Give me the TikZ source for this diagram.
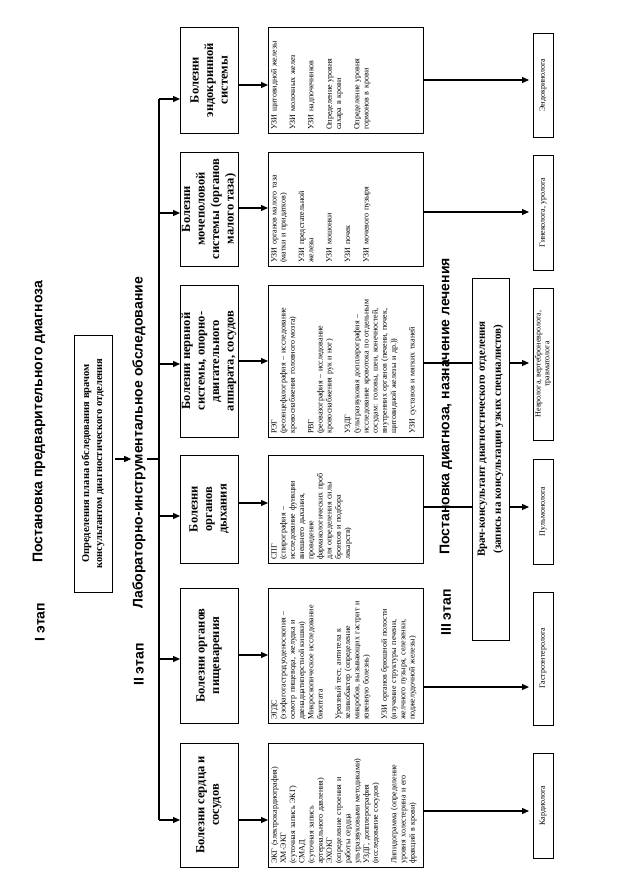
\documentclass[tikz,border=0pt]{standalone}
\usepackage{fontspec}
\setmainfont{Liberation Serif}
\newfontfamily\headfont{Liberation Sans}
\usetikzlibrary{arrows.meta}
\begin{document}
\begin{tikzpicture}[x=1pt,y=-1pt,
  conn/.style={line width=1.2pt},
  arr/.style={conn,-{Triangle[length=7pt,width=6pt]}},
  rbox/.style={draw, line width=0.9pt, rotate=90, inner sep=0pt, outer sep=0pt},
  catbox/.style={rbox, minimum height=58pt, align=center, font=\fontsize{12.5}{14.5}\selectfont\bfseries},
  detbox/.style={rbox, minimum height=155pt},
  dettext/.style={rotate=90, anchor=north west, text width=200pt, align=left, inner sep=3pt, font=\fontsize{8}{9.2}\selectfont},
  specbox/.style={rbox, minimum height=20pt, align=center, font=\fontsize{8}{8.6}\selectfont},
  title/.style={rotate=90, inner sep=1pt, font=\headfont\bfseries\fontsize{14}{16}\selectfont},
]
\fill[white] (0,0) rectangle (627,888);
\useasboundingbox (0,0) rectangle (627,888);

% titles
\node[title] (t1) at (39,422) {Постановка предварительного диагноза};
\node[title] (s1) at (40,622) {I этап};
\node[title] (t2) at (139,443) {Лабораторно-инструментальное обследование};
\node[title] (s2) at (139,664.5) {II этап};
\node[title] (t3) at (446,406.5) {Постановка диагноза, назначение лечения};
\node[title] (s3) at (446,612.5) {III этап};

% plan box
\node[rbox, minimum width=257pt, minimum height=38pt, align=center, font=\fontsize{10.5}{13}\selectfont\bfseries] (plan) at (93,463.5) {Определения плана обследования врачом\\консультантом диагностического отделения};

% doctor box
\node[rbox, minimum width=362pt, minimum height=37pt, align=center, font=\fontsize{11}{16}\selectfont\bfseries] (vr) at (490.5,459) {\hspace*{40pt}Врач-консультант диагностического отделения\\\hspace*{40pt}(запись на консультации узких специалистов)};

% category boxes
\node[catbox, minimum width=106pt] (cE) at (209,80) {Болезни\\эндокринной\\системы};
\node[catbox, minimum width=114pt] (cG) at (209,209) {Болезни\\мочеполовой\\системы (органов\\малого таза)};
\node[catbox, minimum width=152pt] (cN) at (209,361) {Болезни нервной\\системы, опорно-\\двигательного\\аппарата, сосудов};
\node[catbox, minimum width=108pt] (cB) at (209,509) {Болезни\\органов\\дыхания};
\node[catbox, minimum width=135pt] (cD) at (209,655.5) {Болезни органов\\пищеварения};
\node[catbox, minimum width=124pt] (cH) at (209,805) {Болезни сердца и\\сосудов};

% detail boxes
\node[detbox, minimum width=106pt] (dE) at (345.5,80) {};
\node[dettext] (dEt) at (dE.north west) {УЗИ щитовидной железы\\[9.2pt]УЗИ молочных желез\\[9.2pt]УЗИ надпочечников\\[9.2pt]Определение уровня\\сахара в крови\\[9.2pt]Определение уровня\\гормонов в крови};

\node[detbox, minimum width=114pt] (dG) at (345.5,209) {};
\node[dettext] (dGt) at (dG.north west) {УЗИ органов малого таза\\(матки и придатков)\\[9.2pt]УЗИ предстательной\\железы\\[9.2pt]УЗИ мошонки\\[9.2pt]УЗИ почек\\[9.2pt]УЗИ мочевого пузыря};

\node[detbox, minimum width=152pt] (dN) at (345.5,361) {};
\node[dettext] (dNt) at (dN.north west) {РЭГ\\(реоэнцефалография – исследование\\кровоснабжения головного мозга)\\[9.2pt]РВГ\\(реовазография – исследование\\кровоснабжения рук и ног)\\[9.2pt]УЗДГ\\(ультразвуковая допплерография –\\исследование кровотока по отдельным\\сосудам: головы, шеи, конечностей,\\внутренних органов (печени, почек,\\щитовидной железы и др.))\\[9.2pt]УЗИ суставов и мягких тканей};

\node[detbox, minimum width=108pt] (dB) at (345.5,509) {};
\node[dettext] (dBt) at (dB.north west) {СПГ\\(спирография –\\исследование функции\\внешнего дыхания,\\проведение\\фармакологических проб\\для определения силы\\бронхов и подбора\\лекарств)};

\node[detbox, minimum width=135pt] (dD) at (345.5,655.5) {};
\node[dettext] (dDt) at (dD.north west) {ЭГДС\\(эзофагогастродуоденоскопия –\\осмотр пищевода, желудка и\\двенадцатиперстной кишки)\\Микроскопическое исследование\\биоптата\\[9.2pt]Уреазный тест, антитела к\\хеликобактер (определение\\микробов, вызывающих гастрит и\\язвенную болезнь)\\[9.2pt]УЗИ органов брюшной полости\\(изучение структуры печени,\\желчного пузыря, селезенки,\\поджелудочной железы)};

\node[detbox, minimum width=124pt] (dH) at (345.5,805) {};
\node[dettext] (dHt) at (dH.north west) {ЭКГ (электрокардиография)\\ХМ-ЭКГ\\(суточная запись ЭКГ)\\СМАД\\(суточная запись\\артериального давления)\\ЭХОКГ\\(определение строения и\\работы сердца\\ультразвуковыми методиками)\\УЗДГ, допплерография\\(исследование сосудов)\\[9.2pt]Липидограмма (определение\\уровня холестерина и его\\фракций в крови)};

% specialist boxes
\node[specbox, minimum width=104pt] (sE) at (543,85) {Эндокринолога};
\node[specbox, minimum width=115pt] (sG) at (543,212.5) {Гинеколога, уролога};
\node[specbox, minimum width=152pt] (sN) at (543,364) {Невролога, вертеброневролога,\\травматолога};
\node[specbox, minimum width=105pt] (sP) at (543,511.5) {Пульмонолога};
\node[specbox, minimum width=133pt] (sGa) at (543,658.5) {Гастроэнтеролога};
\node[specbox, minimum width=105pt] (sC) at (543,805.5) {Кардиолога};

% connectors stage I -> II
\draw[arr, shorten <=3pt] (plan.south |- 0,459) -- (t2.north |- 0,459);
\coordinate (bT) at (159,99);
\coordinate (bB) at (159,820);
\draw[conn] (t2.south |- 0,459) -- (bT |- 0,459);
\draw[conn] (bT) -- (bB);
\draw[arr] (bT) -- (cE.north |- bT);
\draw[arr] (bT |- 0,213) -- (cG.north |- 0,213);
\draw[arr] (bT |- 0,364) -- (cN.north |- 0,364);
\draw[arr] (bT |- 0,516) -- (cB.north |- 0,516);
\draw[arr] (bT |- 0,659) -- (cD.north |- 0,659);
\draw[arr] (bB) -- (cH.north |- bB);

% category -> detail
\draw[arr] (cE.south |- 0,85) -- (dE.north |- 0,85);
\draw[arr] (cG.south |- 0,208) -- (dG.north |- 0,208);
\draw[arr] (cN.south |- 0,361) -- (dN.north |- 0,361);
\draw[arr] (cB.south |- 0,503) -- (dB.north |- 0,503);
\draw[arr] (cD.south |- 0,655) -- (dD.north |- 0,655);
\draw[arr] (cH.south |- 0,820) -- (dH.north |- 0,820);

% detail -> specialists
\draw[arr, shorten >=4pt] (dE.south |- 0,80) -- (sE.north |- 0,80);
\draw[arr, shorten >=4pt] (dG.south |- 0,212) -- (sG.north |- 0,212);
\draw[conn] (dN.south |- 0,363) -- (vr.north |- 0,363);
\draw[arr, shorten >=4pt] (vr.south |- 0,363) -- (sN.north |- 0,363);
\draw[conn] (dB.south |- 0,507) -- (vr.north |- 0,507);
\draw[arr, shorten >=4pt] (vr.south |- 0,507) -- (sP.north |- 0,507);
\draw[arr, shorten >=4pt] (dD.south |- 0,687) -- (sGa.north |- 0,687);
\draw[arr, shorten >=4pt] (dH.south |- 0,811) -- (sC.north |- 0,811);
\end{tikzpicture}
\end{document}
